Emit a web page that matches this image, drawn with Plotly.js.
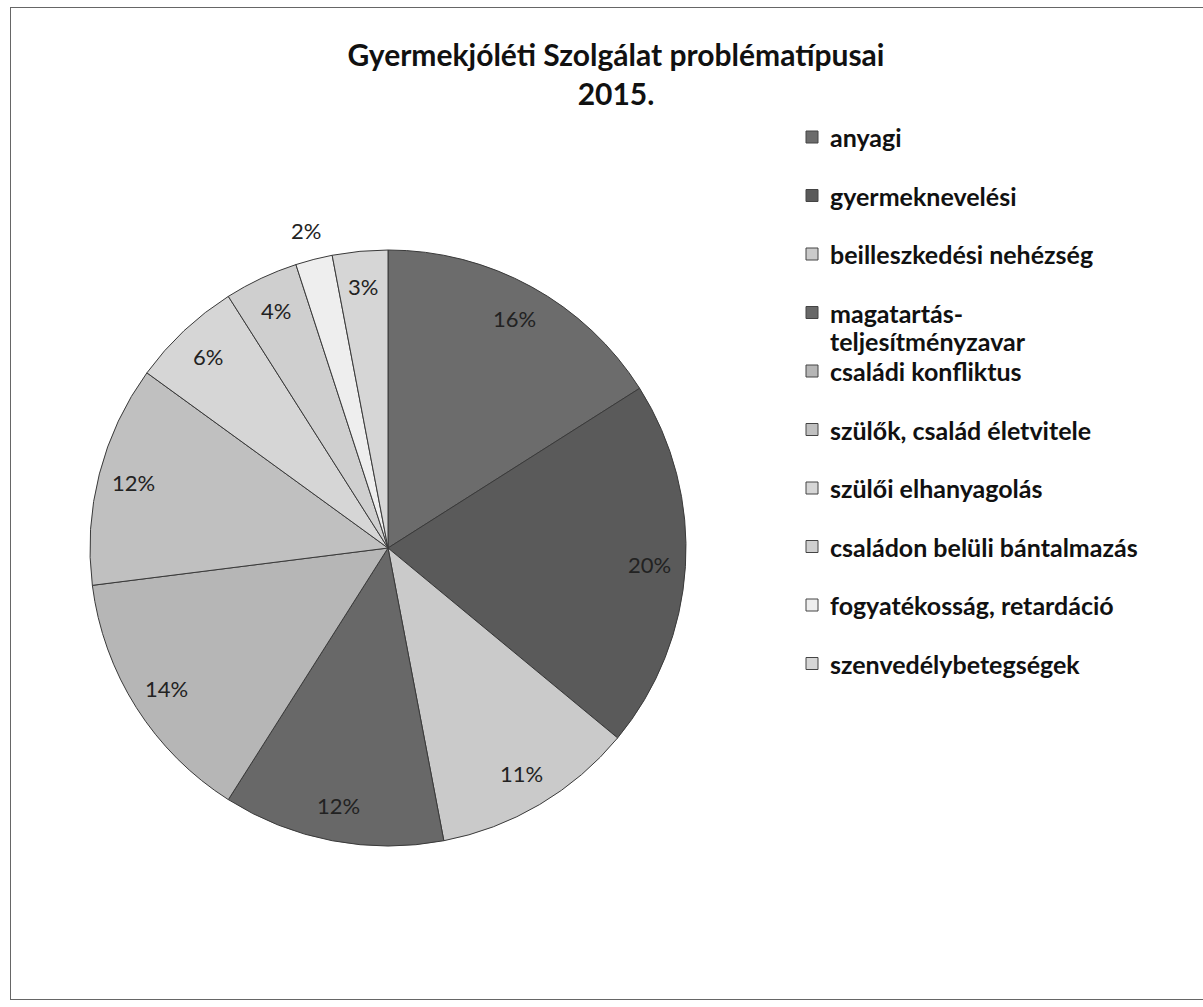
<!DOCTYPE html>
<html>
<head>
<meta charset="utf-8">
<script src="https://cdn.plot.ly/plotly-3.0.1.min.js"></script>
<style>
  html, body { margin: 0; padding: 0; background: #fff; }
  #frame { position: absolute; left: 10px; top: 7px; width: 1250px; height: 993px;
           border: 1.5px solid #666; box-sizing: border-box; }
  #chart { position: absolute; left: 0; top: 0; width: 1203px; height: 1007px; }
</style>
</head>
<body>
<div id="chart"></div>
<div id="frame"></div>
<script>
const titleLines = ["Gyermekjóléti Szolgálat problématípusai", "2015."];
const categories = [
  "anyagi",
  "gyermeknevelési",
  "beilleszkedési nehézség",
  "magatartás-teljesítményzavar",
  "családi konfliktus",
  "szülők, család életvitele",
  "szülői elhanyagolás",
  "családon belüli bántalmazás",
  "fogyatékosság, retardáció",
  "szenvedélybetegségek"
];
const values = [16, 20, 11, 12, 14, 12, 6, 4, 2, 3];
const colors = ["#6c6c6c", "#5a5a5a", "#cacaca", "#686868", "#b6b6b6",
                "#c0c0c0", "#d6d6d6", "#cfcfcf", "#eeeeee", "#d6d6d6"];
const labelOutside = [false, false, false, false, false, false, false, false, true, false];

const W = 1203, H = 1007;
const FONT = "Lato, 'Open Sans', sans-serif";
const CX = 388, CY = 548, R = 298;

const trace = {
  type: "pie",
  labels: categories,
  values: values,
  sort: false,
  direction: "clockwise",
  rotation: 0,
  textinfo: "none",
  marker: { colors: colors, line: { color: "#3a3a3a", width: 1 } },
  domain: { x: [(CX - R) / W, (CX + R) / W], y: [(H - (CY + R)) / H, (H - (CY - R)) / H] },
  hoverinfo: "label+percent",
  showlegend: false
};

const shapes = [], annotations = [];

// percentage labels placed along each slice's mid-angle
const total = values.reduce((a, b) => a + b, 0);
let cum = 0;
values.forEach((v, i) => {
  const mid = (cum + v / 2) / total * 2 * Math.PI;
  cum += v;
  const rr = R * (labelOutside[i] ? 1.10 : 0.88);
  const px = CX + rr * Math.sin(mid), py = CY - rr * Math.cos(mid);
  annotations.push({
    xref: "paper", yref: "paper", x: px / W, y: (H - py) / H,
    xanchor: "center", yanchor: "middle", showarrow: false,
    text: Math.round(v / total * 100) + "%",
    font: { family: FONT, size: 22, color: "#222" }
  });
});

// custom legend built from the category list
const legX = 812, legTop = 137, pitch = 58.5, sq = 12, wrapGap = 28;
categories.forEach((c, i) => {
  const yc = legTop + i * pitch;
  shapes.push({
    type: "rect", xref: "paper", yref: "paper",
    x0: (legX - sq / 2) / W, x1: (legX + sq / 2) / W,
    y0: (H - (yc + sq / 2)) / H, y1: (H - (yc - sq / 2)) / H,
    fillcolor: colors[i], line: { color: "#444", width: 1 }
  });
  const parts = c.includes("-") ? [c.slice(0, c.indexOf("-") + 1), c.slice(c.indexOf("-") + 1)] : [c];
  parts.forEach((p, k) => {
    annotations.push({
      xref: "paper", yref: "paper", x: 828 / W, y: (H - (yc + k * wrapGap)) / H,
      xanchor: "left", yanchor: "middle", align: "left", showarrow: false,
      text: "<b>" + p + "</b>",
      font: { family: FONT, size: 25, color: "#111" }
    });
  });
});

const layout = {
  width: W, height: H,
  margin: { l: 0, r: 0, t: 0, b: 0 },
  paper_bgcolor: "#fff",
  title: {
    text: "<b>" + titleLines.join("<br>") + "</b>",
    x: 616 / W, xanchor: "center", y: (H - 66) / H, yanchor: "middle",
    font: { family: FONT, size: 30, color: "#111" }
  },
  shapes: shapes,
  annotations: annotations,
  showlegend: false
};

Plotly.newPlot("chart", [trace], layout, { displayModeBar: false, staticPlot: true });
</script>
</body>
</html>
